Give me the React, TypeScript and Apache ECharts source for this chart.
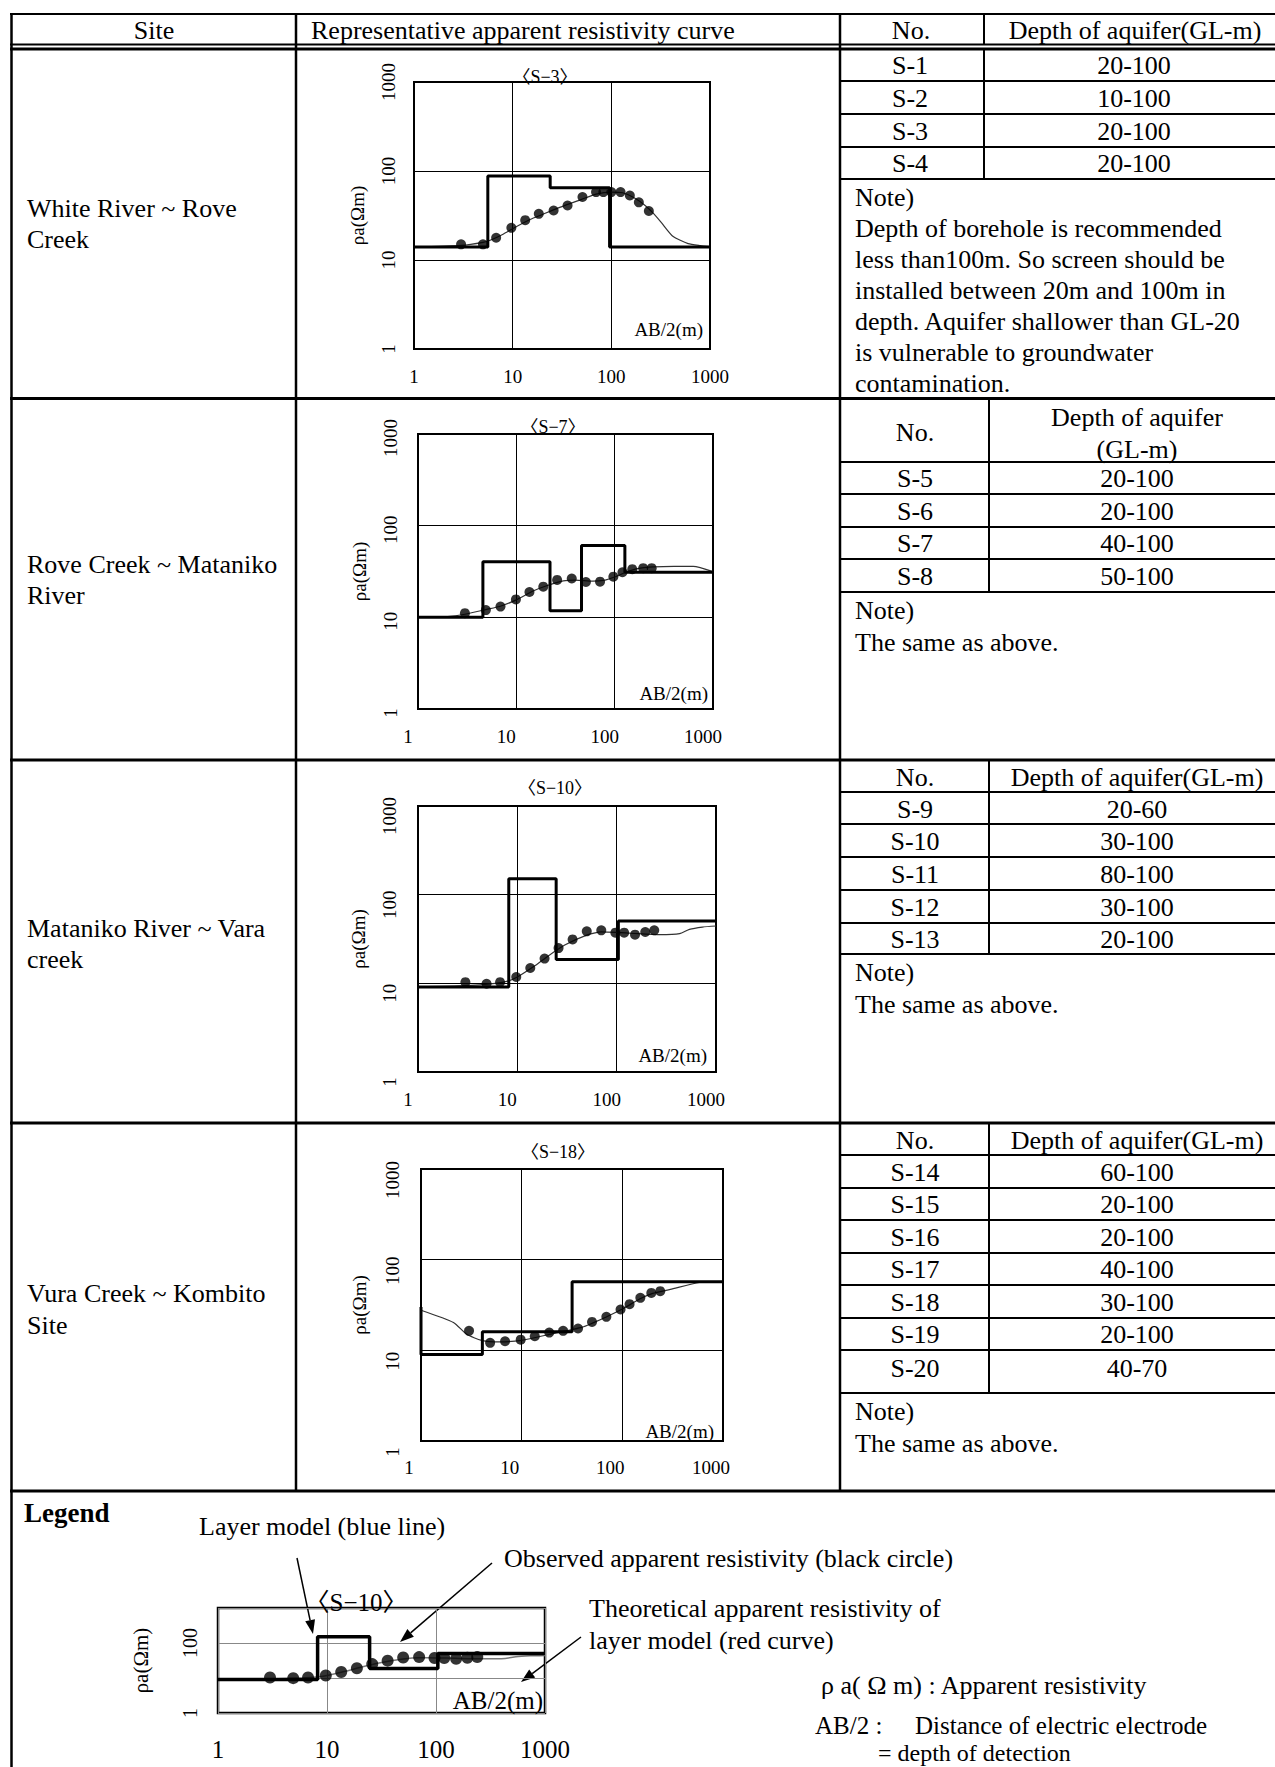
import React, { useEffect, useRef } from "react";
import * as echarts from "echarts";

const FONT = '"Liberation Serif", "Noto Sans CJK JP", serif';

// ---------------- table texts ----------------
const headerTexts = ["Site", "Representative apparent resistivity curve", "No.", "Depth of aquifer(GL-m)"];
const siteNames = [
  ["White River ~ Rove", "Creek"],
  ["Rove Creek ~ Mataniko", "River"],
  ["Mataniko River ~ Vara", "creek"],
  ["Vura Creek ~ Kombito", "Site"],
];
const sec1No = ["S-1", "S-2", "S-3", "S-4"];
const sec1Depth = ["20-100", "10-100", "20-100", "20-100"];
const sec2No = ["S-5", "S-6", "S-7", "S-8"];
const sec2Depth = ["20-100", "20-100", "40-100", "50-100"];
const sec3No = ["S-9", "S-10", "S-11", "S-12", "S-13"];
const sec3Depth = ["20-60", "30-100", "80-100", "30-100", "20-100"];
const sec4No = ["S-14", "S-15", "S-16", "S-17", "S-18", "S-19", "S-20"];
const sec4Depth = ["60-100", "20-100", "20-100", "40-100", "30-100", "20-100", "40-70"];
const note1 = [
  "Note)",
  "Depth of borehole is recommended",
  "less than100m. So screen should be",
  "installed between 20m and 100m in",
  "depth. Aquifer shallower than GL-20",
  "is vulnerable to groundwater",
  "contamination.",
];
const noteSame = ["Note)", "The same as above."];
const chartTitles = ["〈S−3〉", "〈S−7〉", "〈S−10〉", "〈S−18〉", "〈S−10〉"];
const xTickLabels = ["1", "10", "100", "1000"];

// ---------------- chart data ----------------
// S-3
const s3LayerX = [1, 5.6, 24, 96, 1000];
const s3LayerRho = [14, 88, 65, 14, 14];
const s3ObsX = [3.0, 5.0, 6.8, 9.7, 13.4, 18.4, 26, 36, 51, 70, 83, 100, 124, 154, 190, 240];
const s3ObsRho = [15, 15, 17.8, 23, 28, 33, 36, 41, 51, 58, 58, 58, 58, 53, 44.5, 35.5];
const s3CurveX = [1, 3, 5, 6, 8, 10, 15, 20, 30, 50, 70, 100, 130, 170, 220, 270, 320, 420, 600, 800, 1000];
const s3CurveRho = [14, 14.6, 15.8, 16.8, 19.5, 22.5, 28.5, 32.5, 39, 48, 55, 58, 57, 50, 41, 33, 26.5, 18.5, 15.3, 14.5, 14.1];

// S-7
const s7LayerX = [1, 4.57, 22, 46, 127, 1000];
const s7LayerRho = [10, 40.5, 11.8, 60.6, 31, 31];
const s7ObsX = [3.0, 4.9, 6.9, 9.9, 13.6, 18.8, 26, 36.6, 51, 71, 97, 120, 151, 195, 238];
const s7ObsRho = [11.1, 12.0, 13.1, 15.7, 18.9, 21.6, 25.6, 26.5, 24.3, 24.5, 27.8, 31, 33.5, 34.4, 34.4];
const s7CurveX = [1, 2, 3, 5, 7, 10, 15, 20, 30, 40, 60, 80, 100, 130, 170, 250, 400, 630, 1000];
const s7CurveRho = [10, 10.2, 10.8, 12.2, 13.3, 15.5, 19.5, 22, 25, 25.5, 24.8, 25.5, 27.5, 31, 34, 35.5, 36, 36, 31.5];

// S-10
const s10LayerX = [1, 8.2, 24.6, 104, 1000];
const s10LayerRho = [9.1, 151, 18.6, 50.4, 50.4];
const s10ObsX = [3.0, 4.9, 6.7, 9.75, 13.5, 18.8, 26, 36, 50, 70, 97, 119, 153, 194, 239];
const s10ObsRho = [10.3, 9.9, 10.3, 11.8, 14.9, 19, 25, 31.3, 38.6, 39.6, 37.3, 37.3, 35.4, 37.9, 39.6];
const s10CurveX = [1, 3, 6, 8, 10, 15, 20, 30, 50, 70, 100, 150, 270, 430, 540, 730, 1000];
const s10CurveRho = [9.1, 9.4, 10, 10.6, 11.8, 15.8, 20, 27, 35, 38, 37.5, 36.5, 35.4, 36.3, 40.6, 43.1, 44.3];

// S-18
const s18LayerX = [1, 1, 4.07, 31.7, 1000];
const s18LayerRho = [30, 9, 16, 57, 57];
const s18ObsX = [3.0, 4.86, 6.84, 9.78, 13.5, 18.8, 25.8, 36.3, 50, 69.4, 96, 118, 151, 194, 238];
const s18ObsRho = [16.4, 12.1, 12.6, 13.1, 14.3, 15.7, 16.4, 17.4, 20.6, 23.4, 28.2, 32.3, 37.9, 43, 44.9];
const s18CurveX = [1, 2.1, 2.85, 4, 6, 10, 20, 40, 70, 100, 150, 200, 300, 580, 1000];
const s18CurveRho = [27.7, 20.3, 15, 12.9, 12.4, 12.9, 15.2, 18, 23.5, 28.5, 37, 42.5, 47, 56, 57];

const zip = (xs: number[], ys: number[]) => xs.map((x, i) => [x, ys[i]]);

const datasets = [
  { layer: zip(s3LayerX, s3LayerRho), obs: zip(s3ObsX, s3ObsRho), curve: zip(s3CurveX, s3CurveRho) },
  { layer: zip(s7LayerX, s7LayerRho), obs: zip(s7ObsX, s7ObsRho), curve: zip(s7CurveX, s7CurveRho) },
  { layer: zip(s10LayerX, s10LayerRho), obs: zip(s10ObsX, s10ObsRho), curve: zip(s10CurveX, s10CurveRho) },
  { layer: zip(s18LayerX, s18LayerRho), obs: zip(s18ObsX, s18ObsRho), curve: zip(s18CurveX, s18CurveRho) },
  { layer: zip(s10LayerX, s10LayerRho), obs: zip(s10ObsX, s10ObsRho), curve: zip(s10CurveX, s10CurveRho) },
];

// ---------------- layout ----------------
const charts = [
  { rect: { left: 414, top: 82, width: 296, height: 267 }, yPad: 0, xPad: 0, yMargin: 16, xMargin: 18, nameGap: 47, title: [545, 77], ab: [703, 329], tSize: 18, lab: 19, nameSize: 19, sym: 10, lw: 3, mini: false },
  { rect: { left: 418, top: 434, width: 295, height: 275 }, yPad: 8, xPad: 20, yMargin: 18, xMargin: 18, nameGap: 49, title: [553, 427], ab: [708, 693], tSize: 18, lab: 19, nameSize: 19, sym: 10, lw: 3, mini: false },
  { rect: { left: 418, top: 806, width: 298, height: 266 }, yPad: 20, xPad: 20, yMargin: 19, xMargin: 18, nameGap: 50, title: [555, 788], ab: [707, 1055], tSize: 18, lab: 19, nameSize: 19, sym: 10, lw: 3, mini: false },
  { rect: { left: 421, top: 1169, width: 302, height: 272 }, yPad: 22, xPad: 24, yMargin: 19, xMargin: 17, nameGap: 52, title: [558, 1152], ab: [714, 1431], tSize: 18, lab: 19, nameSize: 19, sym: 10, lw: 3, mini: false },
  { rect: { left: 218, top: 1608, width: 327, height: 105 }, yPad: 0, xPad: 0, yMargin: 18, xMargin: 24, nameGap: 67, title: [356, 1602], ab: [543, 1700], tSize: 25, lab: 25, nameSize: 21, sym: 12, lw: 3.5, mini: true },
];

function hline(y: number, x1: number, x2: number, w = 2) {
  return { type: "line", silent: true, shape: { x1, y1: y, x2, y2: y }, style: { stroke: "#000", lineWidth: w } };
}
function vline(x: number, y1: number, y2: number, w = 2) {
  return { type: "line", silent: true, shape: { x1: x, y1, x2: x, y2 }, style: { stroke: "#000", lineWidth: w } };
}
function T(x: number, y: number, text: string, size = 26, align = "left", extra: any = {}) {
  return {
    type: "text",
    silent: true,
    x,
    y,
    z: 10,
    style: { text, fill: "#000", fontSize: size, fontFamily: FONT, align, verticalAlign: "middle", ...extra },
  };
}
function arrow(x1: number, y1: number, x2: number, y2: number, head = 14, hw = 5) {
  const dx = x2 - x1, dy = y2 - y1;
  const len = Math.hypot(dx, dy);
  const ux = dx / len, uy = dy / len;
  const bx = x2 - ux * head, by = y2 - uy * head;
  const px = -uy, py = ux;
  return [
    { type: "line", silent: true, shape: { x1, y1, x2: bx, y2: by }, style: { stroke: "#000", lineWidth: 1.5 } },
    {
      type: "polygon",
      silent: true,
      shape: { points: [[x2, y2], [bx + px * hw, by + py * hw], [bx - px * hw, by - py * hw]] },
      style: { fill: "#000" },
    },
  ];
}

function buildGraphic() {
  const g: any[] = [];
  const R = 1275;
  // borders and rules
  g.push(hline(14, 10, R, 2));
  g.push(vline(11.5, 13, 1767, 2.5));
  g.push(hline(44.5, 10, R, 2));
  g.push(hline(49, 10, R, 3));
  g.push(vline(296, 14, 1491, 2.5));
  g.push(vline(840, 14, 1491, 2.5));
  g.push(vline(984, 14, 44));
  g.push(vline(984, 49, 179));
  [81, 114, 147, 179].forEach((y) => g.push(hline(y, 840, R, 2)));
  [398.5, 760, 1123, 1491].forEach((y) => g.push(hline(y, 10, R, 3)));
  g.push(vline(989, 399, 592));
  [462, 494, 527, 559, 592].forEach((y) => g.push(hline(y, 840, R, 2)));
  g.push(vline(989, 760, 954));
  [792, 824, 857, 890, 923, 954].forEach((y) => g.push(hline(y, 840, R, 2)));
  g.push(vline(989, 1123, 1393));
  [1155, 1188, 1220, 1253, 1285, 1318, 1350, 1393].forEach((y) => g.push(hline(y, 840, R, 2)));

  // header
  g.push(T(154, 30, headerTexts[0], 26, "center"));
  g.push(T(311, 30, headerTexts[1], 26, "left"));
  g.push(T(911, 30, headerTexts[2], 26, "center"));
  g.push(T(1135, 30, headerTexts[3], 26, "center"));

  // site names
  const siteY = [[208, 239], [564, 595], [928, 959], [1293, 1325]];
  siteNames.forEach((lines, i) => lines.forEach((s, j) => g.push(T(27, siteY[i][j], s))));

  // section 1
  const s1Y = [65, 98, 131, 163];
  sec1No.forEach((s, i) => g.push(T(910, s1Y[i], s, 26, "center")));
  sec1Depth.forEach((s, i) => g.push(T(1134, s1Y[i], s, 26, "center")));
  const n1Y = [197, 228, 259, 290, 321, 352, 383];
  note1.forEach((s, i) => g.push(T(855, n1Y[i], s)));

  // section 2
  g.push(T(915, 432, "No.", 26, "center"));
  g.push(T(1137, 417, "Depth of aquifer", 26, "center"));
  g.push(T(1137, 449, "(GL-m)", 26, "center"));
  const s2Y = [478, 511, 543, 576];
  sec2No.forEach((s, i) => g.push(T(915, s2Y[i], s, 26, "center")));
  sec2Depth.forEach((s, i) => g.push(T(1137, s2Y[i], s, 26, "center")));
  noteSame.forEach((s, i) => g.push(T(855, [610, 642][i], s)));

  // section 3
  g.push(T(915, 777, headerTexts[2], 26, "center"));
  g.push(T(1137, 777, headerTexts[3], 26, "center"));
  const s3Y = [809, 841, 874, 907, 939];
  sec3No.forEach((s, i) => g.push(T(915, s3Y[i], s, 26, "center")));
  sec3Depth.forEach((s, i) => g.push(T(1137, s3Y[i], s, 26, "center")));
  noteSame.forEach((s, i) => g.push(T(855, [972, 1004][i], s)));

  // section 4
  g.push(T(915, 1140, headerTexts[2], 26, "center"));
  g.push(T(1137, 1140, headerTexts[3], 26, "center"));
  const s4Y = [1172, 1204, 1237, 1269, 1302, 1334, 1368];
  sec4No.forEach((s, i) => g.push(T(915, s4Y[i], s, 26, "center")));
  sec4Depth.forEach((s, i) => g.push(T(1137, s4Y[i], s, 26, "center")));
  noteSame.forEach((s, i) => g.push(T(855, [1411, 1443][i], s)));

  // chart titles and AB/2 labels
  charts.forEach((c, i) => {
    g.push(T(c.title[0], c.title[1], chartTitles[i], c.tSize, "center"));
    g.push(T(c.ab[0], c.ab[1], "AB/2(m)", c.mini ? 25 : 19, "right"));
  });

  // legend
  g.push(T(24, 1513, "Legend", 27, "left", { fontWeight: "bold" }));
  g.push(T(199, 1526, "Layer model (blue line)"));
  g.push(T(504, 1558, "Observed apparent resistivity (black circle)"));
  g.push(T(589, 1608, "Theoretical apparent resistivity of"));
  g.push(T(589, 1640, "layer model (red curve)"));
  g.push(T(821, 1685, "ρ a( Ω m) : Apparent resistivity"));
  g.push(T(815, 1725, "AB/2 :", 25));
  g.push(T(915, 1725, "Distance of electric electrode", 25));
  g.push(T(878, 1753, "= depth of detection", 24));
  g.push(...arrow(297, 1558, 313, 1634));
  g.push(...arrow(492, 1563, 400, 1642));
  g.push(...arrow(581, 1637, 521, 1682));
  return g;
}

function buildOption() {
  const grid: any[] = [];
  const xAxis: any[] = [];
  const yAxis: any[] = [];
  const series: any[] = [];
  charts.forEach((c, i) => {
    const d = datasets[i];
    grid.push({
      ...c.rect,
      show: true,
      backgroundColor: "#fff",
      borderColor: "#000",
      borderWidth: c.mini ? 2.5 : 2,
      containLabel: false,
    });
    const gridLineColor = c.mini ? "#888" : "#000";
    xAxis.push({
      gridIndex: i,
      type: "log",
      logBase: 10,
      min: 1,
      max: 1000,
      axisLine: { show: false },
      axisTick: { show: false },
      axisLabel: {
        color: "#000",
        fontFamily: FONT,
        fontSize: c.lab,
        margin: c.xMargin,
        padding: [0, c.xPad, 0, 0],
        formatter: (v: number) => {
          const r = Math.round(v);
          return xTickLabels.includes(String(r)) ? String(r) : "";
        },
      },
      splitLine: { show: true, lineStyle: { color: gridLineColor, width: 1 } },
    });
    yAxis.push({
      gridIndex: i,
      type: "log",
      logBase: 10,
      min: 1,
      max: 1000,
      name: "ρa(Ωm)",
      nameLocation: "middle",
      nameRotate: 90,
      nameGap: c.nameGap,
      nameTextStyle: { color: "#000", fontFamily: FONT, fontSize: c.nameSize },
      axisLine: { show: false },
      axisTick: { show: false },
      axisLabel: {
        color: "#000",
        fontFamily: FONT,
        fontSize: c.mini ? 20 : c.lab,
        rotate: 90,
        margin: c.yMargin,
        padding: [0, c.yPad, 0, 0],
        formatter: (v: number) => {
          const r = Math.round(v);
          if (c.mini) return r === 1 || r === 100 ? String(r) : "";
          return String(r);
        },
      },
      splitLine: { show: true, lineStyle: { color: gridLineColor, width: 1 } },
    });
    series.push({
      type: "line",
      xAxisIndex: i,
      yAxisIndex: i,
      data: d.curve,
      symbol: "none",
      smooth: 0.2,
      clip: false,
      lineStyle: { color: c.mini ? "#777" : "#333", width: c.mini ? 1.5 : 1.2 },
      z: 2,
    });
    series.push({
      type: "line",
      xAxisIndex: i,
      yAxisIndex: i,
      data: d.layer,
      step: "end",
      symbol: "none",
      clip: false,
      lineStyle: { color: "#000", width: c.lw },
      z: 3,
    });
    series.push({
      type: "scatter",
      xAxisIndex: i,
      yAxisIndex: i,
      data: d.obs,
      symbol: "circle",
      symbolSize: c.sym,
      itemStyle: { color: "#000" },
      z: 4,
    });
  });
  return {
    animation: false,
    backgroundColor: "#fff",
    textStyle: { fontFamily: FONT },
    grid,
    xAxis,
    yAxis,
    series,
    graphic: { elements: buildGraphic() },
  };
}

export default function App() {
  const ref = useRef<HTMLDivElement>(null);
  useEffect(() => {
    if (!ref.current) return;
    const chart = echarts.init(ref.current, undefined, { renderer: "svg", width: 1275, height: 1767 });
    chart.setOption(buildOption() as any);
    return () => chart.dispose();
  }, []);
  return (
    <div
      ref={ref}
      style={{ position: "absolute", left: 0, top: 0, width: 1275, height: 1767, background: "#fff" }}
    />
  );
}
